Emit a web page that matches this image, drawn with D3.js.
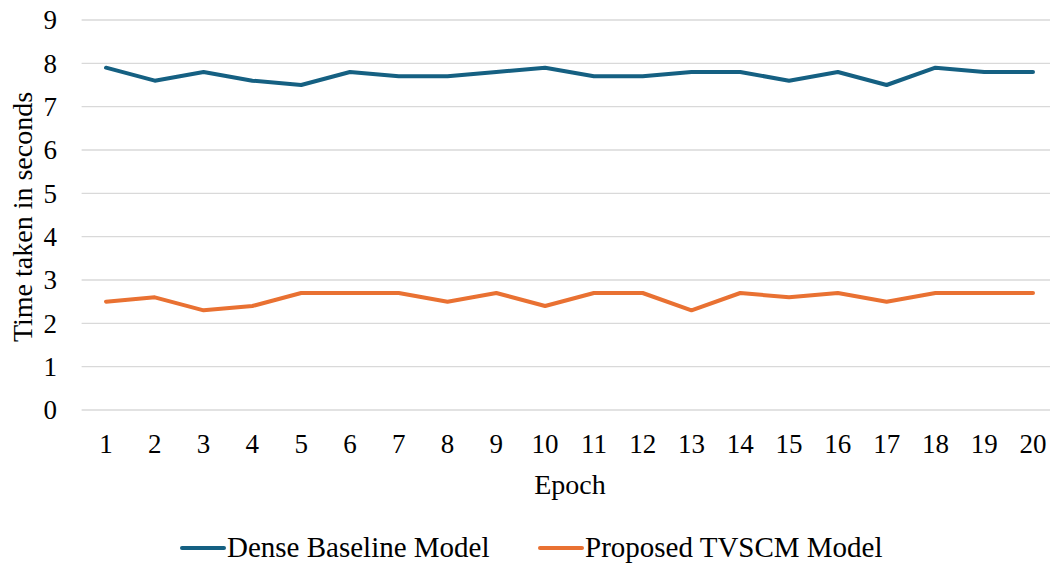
<!DOCTYPE html>
<html>
<head>
<meta charset="utf-8">
<script src="https://cdn.jsdelivr.net/npm/d3@7"></script>
<style>
  body { margin: 0; background: #fff; }
</style>
</head>
<body>
<svg width="1050" height="563"></svg>
<script>
const epochs = d3.range(1, 21).map(String);
const yTicks = [0, 1, 2, 3, 4, 5, 6, 7, 8, 9];
const dense = [7.9, 7.6, 7.8, 7.6, 7.5, 7.8, 7.7, 7.7, 7.8, 7.9, 7.7, 7.7, 7.8, 7.8, 7.6, 7.8, 7.5, 7.9, 7.8, 7.8];
const proposed = [2.5, 2.6, 2.3, 2.4, 2.7, 2.7, 2.7, 2.5, 2.7, 2.4, 2.7, 2.7, 2.3, 2.7, 2.6, 2.7, 2.5, 2.7, 2.7, 2.7];
const seriesNames = ["Dense Baseline Model", "Proposed TVSCM Model"];
const colors = ["#156082", "#e97132"];
const font = "Liberation Serif";

const svg = d3.select("svg");
const x = d3.scalePoint().domain(epochs).range([106, 1033]);
const step = x.step();
const y = d3.scaleLinear().domain([0, 9]).range([410, 20]);

// gridlines
svg.append("g")
    .selectAll("line")
    .data(yTicks)
    .enter().append("line")
    .attr("x1", 106 - step / 2)
    .attr("x2", 1033 + step / 2)
    .attr("y1", d => y(d))
    .attr("y2", d => y(d))
    .attr("stroke", "#d9d9d9")
    .attr("stroke-width", 1.3);

// y tick labels
svg.append("g")
    .selectAll("text")
    .data(yTicks)
    .enter().append("text")
    .attr("x", 57)
    .attr("y", d => y(d))
    .attr("dy", "0.34em")
    .attr("text-anchor", "end")
    .attr("font-family", font)
    .attr("font-size", 27)
    .text(d => d);

// x tick labels
svg.append("g")
    .selectAll("text")
    .data(epochs)
    .enter().append("text")
    .attr("x", d => x(d))
    .attr("y", 453)
    .attr("text-anchor", "middle")
    .attr("font-family", font)
    .attr("font-size", 27)
    .text(d => d);

// axis titles
svg.append("text")
    .attr("x", 570)
    .attr("y", 494)
    .attr("text-anchor", "middle")
    .attr("font-family", font)
    .attr("font-size", 28)
    .text("Epoch");

svg.append("text")
    .attr("transform", "translate(32,217) rotate(-90)")
    .attr("text-anchor", "middle")
    .attr("font-family", font)
    .attr("font-size", 28)
    .text("Time taken in seconds");

// lines
const line = d3.line()
    .x((d, i) => x(epochs[i]))
    .y(d => y(d));

[dense, proposed].forEach((vals, i) => {
    svg.append("path")
        .datum(vals)
        .attr("d", line)
        .attr("fill", "none")
        .attr("stroke", colors[i])
        .attr("stroke-width", 4)
        .attr("stroke-linejoin", "round")
        .attr("stroke-linecap", "round");
});

// legend
const legendX = [182, 540];
seriesNames.forEach((name, i) => {
    const g = svg.append("g").attr("transform", `translate(${legendX[i]},548)`);
    g.append("line")
        .attr("x1", 0).attr("x2", 42)
        .attr("stroke", colors[i])
        .attr("stroke-width", 4)
        .attr("stroke-linecap", "round");
    g.append("text")
        .attr("x", 45)
        .attr("y", 9)
        .attr("font-family", font)
        .attr("font-size", 29)
        .text(name);
});
</script>
</body>
</html>
